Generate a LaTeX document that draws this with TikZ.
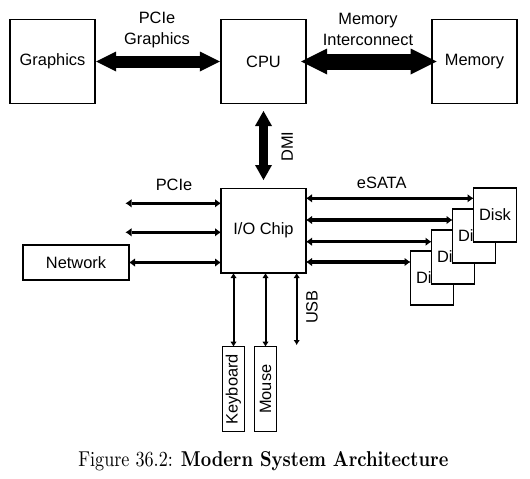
\documentclass[tikz,border=0pt]{standalone}
\usepackage{fontspec}
\newfontfamily\diagfont{Liberation Sans}
\usetikzlibrary{arrows.meta}
\tikzset{
  box/.style={draw, line width=1.5pt, inner sep=0pt, outer sep=0pt, fill=white,
    font=\diagfont\fontsize{16.4}{21}\selectfont, align=center},
  lbl/.style={inner sep=0pt, font=\diagfont\fontsize{16.4}{21}\selectfont, align=center},
  bigarrow/.style={line width=#1},
  ioarrow/.style={line width=3.2pt, {Latex[length=6pt,width=8pt,line width=0pt]}-{Latex[length=6pt,width=8pt,line width=0pt]}},
  varrow/.style={line width=2pt, {Latex[length=5pt,width=6pt,line width=0pt]}-{Latex[length=5pt,width=6pt,line width=0pt]}}
}
\begin{document}
\begin{tikzpicture}[x=1pt,y=-1pt]
\useasboundingbox (0,0) rectangle (530,479);
% top row
\node[box, minimum width=85pt, minimum height=84pt] (gfx) at (52.5,61.5) {Graphics};
\node[box, minimum width=85pt, minimum height=84pt] (cpu) at (263.5,61.5) {CPU};
\node[box, minimum width=85pt, minimum height=84pt] (mem) at (474.5,61.5) {Memory};
% io chip
\node[box, minimum width=85pt, minimum height=84.5pt] (io) at (263.5,230.75) {I/O Chip};
\node[box, minimum width=106pt, minimum height=35pt] (net) at (76,262.5) {Network};
% keyboard / mouse
\node[box, minimum width=22pt, minimum height=85pt] (kb) at (233.5,389.2) {\rotatebox{90}{Keyboard}};
\node[box, minimum width=22pt, minimum height=85pt] (ms) at (265.5,389.2) {\rotatebox{90}{Mouse}};
% big arrows
\draw[line width=12pt, {Triangle[length=20pt,width=20pt,line width=0pt]}-{Triangle[length=20pt,width=20pt,line width=0pt]}, shorten <=1.2pt, shorten >=1.2pt] (gfx.east) -- (cpu.west);
\draw[line width=16pt, {Triangle[length=26pt,width=26pt,line width=0pt]}-{Triangle[length=26pt,width=26pt,line width=0pt]}, shorten <=-5pt, shorten >=-4.7pt] (cpu.east) -- (mem.west);
\draw[line width=9pt, {Triangle[length=15pt,width=17pt,line width=0pt]}-{Triangle[length=15pt,width=17pt,line width=0pt]}, shorten <=7.5pt, shorten >=8.5pt] (cpu.south) -- (io.north);
% labels
\node[lbl] (lpg) at (157,29.5) {PCIe\\Graphics};
\node[lbl] (lmi) at (368,29.5) {Memory\\Interconnect};
\node[lbl, rotate=90] (ldmi) at (287.3,146.7) {DMI};
\node[lbl] (lpcie) at (174,185) {PCIe};
\node[lbl] (lesata) at (381.7,182.7) {eSATA};
\node[lbl, rotate=90] (lusb) at (312,307) {USB};
% left arrows
\coordinate (pa) at (125.5,203.3);
\coordinate (pb) at (125.5,232.3);
\draw[ioarrow] (pa) -- (io.west |- pa);
\draw[ioarrow] (pb) -- (io.west |- pb);
\draw[ioarrow] (net.east) -- (io.west |- net.east);
% disks
\node[box, minimum width=43pt, minimum height=54pt] (d4) at (432,278) {Disk};
\node[box, minimum width=43pt, minimum height=54pt] (d3) at (453,257) {Disk};
\node[box, minimum width=43pt, minimum height=54pt] (d2) at (474,236) {Disk};
\node[box, minimum width=43pt, minimum height=54pt] (d1) at (495,215) {Disk};
% right arrows
\coordinate (ra) at (0,198.3);
\coordinate (rb) at (0,220);
\coordinate (rc) at (0,241.7);
\coordinate (rd) at (0,262);
\draw[ioarrow] (io.east |- ra) -- (d1.west |- ra);
\draw[ioarrow] (io.east |- rb) -- (d2.west |- rb);
\draw[ioarrow] (io.east |- rc) -- (d3.west |- rc);
\draw[ioarrow] (io.east |- rd) -- (d4.west |- rd);
% bottom arrows
\coordinate (usb) at (296.7,345);
\draw[varrow] (io.south -| kb.north) -- (kb.north);
\draw[varrow] (io.south -| ms.north) -- (ms.north);
\draw[varrow] (io.south -| usb) -- (usb);
% caption
\node[anchor=base, inner sep=0pt] (cap) at (263.3,466.7) {\resizebox{370pt}{15pt}{Figure 36.2: \textbf{Modern System Architecture}}};
\end{tikzpicture}
\end{document}
